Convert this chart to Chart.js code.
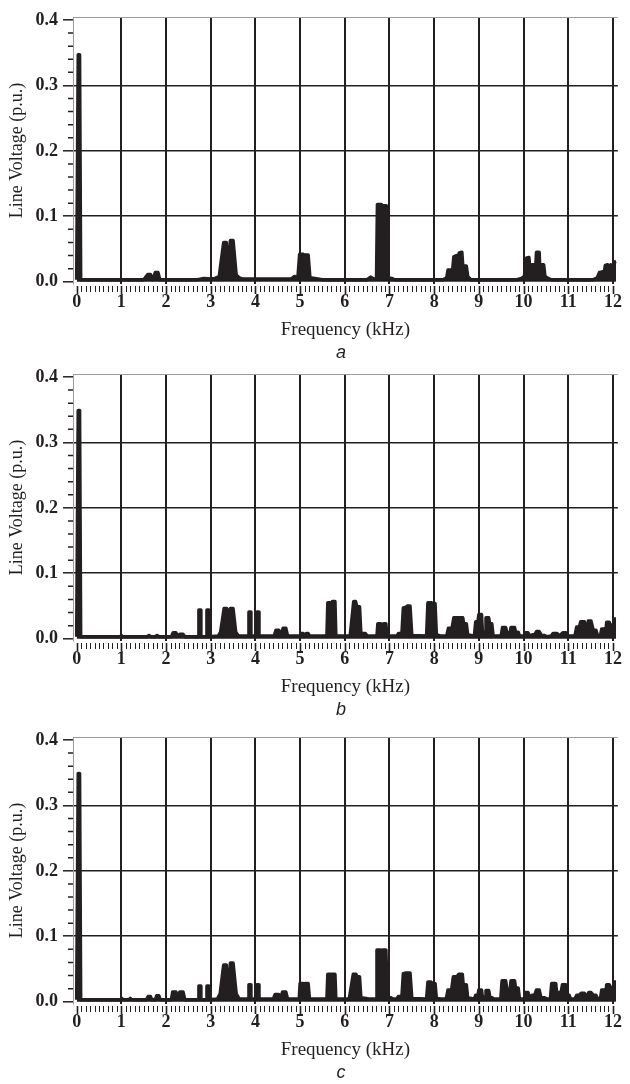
<!DOCTYPE html>
<html lang="en">
<head>
<meta charset="UTF-8">
<title>Line voltage spectra</title>
<style>
  body { margin: 0; background: #fff; }
  .page { position: relative; width: 630px; height: 1084px; }
  .panel { position: absolute; left: 0; width: 630px; height: 360px; }
  .panel canvas { position: absolute; left: 0; top: 0; }
  .tag {
    position: absolute; left: 321px; width: 40px; top: 342px;
    text-align: center; line-height: 18px; color: #231f20;
    font: italic 18px "Liberation Sans", Arial, sans-serif;
  }
</style>
</head>
<body>
<div class="page">
  <div class="panel" style="top:0px"><canvas id="chartA" width="630" height="360"></canvas><div class="tag">a</div></div>
  <div class="panel" style="top:357px"><canvas id="chartB" width="630" height="360"></canvas><div class="tag">b</div></div>
  <div class="panel" style="top:720px"><canvas id="chartC" width="630" height="360"></canvas><div class="tag">c</div></div>
</div>

<script src="https://cdn.jsdelivr.net/npm/chart.js"></script>
<script>
// axis ticks (kHz and p.u.)
const xTicks = [0, 1, 2, 3, 4, 5, 6, 7, 8, 9, 10, 11, 12];
const yTicks = [0, 0.1, 0.2, 0.3, 0.4];
const xMinorStep = 0.1;
const yMinorStep = 0.02;

// spectra: [frequency kHz, line voltage p.u.]
const spectrumA = [
  [0.00,0.003],[0.035,0.347],[0.065,0.347],[0.09,0.003],
  [1.50,0.003],[1.59,0.011],[1.65,0.011],[1.70,0.003],[1.76,0.014],[1.82,0.014],[1.86,0.003],
  [2.70,0.003],[2.85,0.005],[3.00,0.004],[3.10,0.005],[3.19,0.008],[3.29,0.060],[3.35,0.060],[3.40,0.004],
  [3.44,0.063],[3.50,0.063],[3.57,0.010],[3.64,0.006],[3.72,0.004],
  [4.00,0.004],[4.40,0.004],[4.80,0.004],[4.87,0.008],[4.95,0.006],[4.99,0.042],[5.07,0.042],[5.09,0.020],
  [5.11,0.041],[5.18,0.041],[5.22,0.006],[5.40,0.004],[5.50,0.003],
  [6.50,0.003],[6.58,0.007],[6.65,0.004],[6.71,0.005],[6.73,0.118],[6.82,0.118],[6.835,0.050],[6.85,0.116],
  [6.93,0.116],[6.96,0.006],[7.05,0.005],[7.12,0.003],
  [8.20,0.003],[8.28,0.006],[8.31,0.018],[8.38,0.018],[8.40,0.008],[8.44,0.038],[8.50,0.040],[8.52,0.020],
  [8.56,0.044],[8.62,0.045],[8.64,0.025],[8.67,0.024],[8.72,0.024],[8.75,0.008],[8.82,0.003],
  [9.85,0.003],[9.95,0.005],[10.02,0.008],[10.06,0.036],[10.12,0.037],[10.16,0.006],[10.19,0.026],[10.24,0.026],
  [10.26,0.008],[10.29,0.045],[10.35,0.045],[10.37,0.010],[10.40,0.026],[10.45,0.026],[10.48,0.008],[10.55,0.005],[10.62,0.003],
  [11.55,0.003],[11.65,0.006],[11.70,0.014],[11.76,0.015],[11.79,0.006],[11.83,0.025],[11.88,0.026],[11.91,0.008],
  [11.95,0.026],[11.98,0.024],[12.00,0.010],[12.03,0.030],[12.07,0.031]
];

const spectrumB = [
  [0.00,0.003],[0.035,0.349],[0.065,0.349],[0.09,0.003],
  [0.98,0.003],[1.00,0.005],[1.03,0.003],
  [1.58,0.003],[1.62,0.005],[1.66,0.003],[1.76,0.003],[1.80,0.005],[1.84,0.003],
  [2.12,0.003],[2.16,0.009],[2.22,0.009],[2.26,0.004],[2.31,0.007],[2.38,0.007],[2.42,0.003],
  [2.72,0.003],[2.735,0.044],[2.765,0.044],[2.78,0.003],[2.90,0.003],[2.915,0.044],[2.945,0.044],[2.96,0.003],
  [3.17,0.004],[3.22,0.010],[3.30,0.046],[3.36,0.046],[3.40,0.005],[3.44,0.046],[3.50,0.046],[3.56,0.010],[3.62,0.004],
  [3.84,0.004],[3.855,0.041],[3.885,0.041],[3.90,0.004],[4.02,0.004],[4.035,0.041],[4.065,0.041],[4.08,0.004],
  [4.42,0.004],[4.46,0.013],[4.52,0.013],[4.56,0.005],[4.62,0.016],[4.68,0.016],[4.72,0.004],
  [5.00,0.004],[5.02,0.008],[5.07,0.008],[5.10,0.004],[5.14,0.008],[5.18,0.008],[5.21,0.004],
  [5.60,0.004],[5.62,0.055],[5.67,0.055],[5.69,0.004],[5.72,0.057],[5.78,0.057],[5.80,0.004],
  [6.12,0.004],[6.20,0.057],[6.24,0.057],[6.27,0.049],[6.33,0.049],[6.36,0.008],[6.46,0.008],[6.50,0.004],
  [6.72,0.004],[6.74,0.023],[6.79,0.023],[6.81,0.004],[6.86,0.004],[6.87,0.023],[6.92,0.023],[6.94,0.004],
  [7.17,0.004],[7.20,0.008],[7.25,0.008],[7.28,0.010],[7.31,0.047],[7.37,0.048],[7.40,0.050],[7.46,0.050],[7.50,0.005],
  [7.83,0.004],[7.86,0.055],[7.93,0.055],[7.97,0.054],[8.02,0.054],[8.05,0.006],[8.15,0.004],[8.28,0.004],
  [8.32,0.016],[8.40,0.016],[8.44,0.032],[8.52,0.032],[8.56,0.032],[8.64,0.032],[8.66,0.023],[8.72,0.023],[8.75,0.006],
  [8.90,0.004],[8.93,0.026],[8.98,0.026],[9.00,0.037],[9.06,0.037],[9.08,0.010],[9.14,0.010],[9.16,0.032],[9.22,0.032],
  [9.24,0.023],[9.29,0.023],[9.32,0.004],
  [9.50,0.004],[9.53,0.017],[9.60,0.017],[9.63,0.009],[9.70,0.009],[9.72,0.017],[9.80,0.017],[9.82,0.010],[9.88,0.010],[9.91,0.004],
  [10.03,0.004],[10.05,0.009],[10.10,0.009],[10.14,0.004],[10.20,0.006],[10.25,0.006],[10.29,0.011],[10.35,0.011],
  [10.40,0.005],[10.47,0.005],[10.52,0.003],
  [10.62,0.004],[10.66,0.008],[10.75,0.008],[10.80,0.004],[10.88,0.009],[10.95,0.009],[11.00,0.004],
  [11.15,0.004],[11.19,0.018],[11.25,0.018],[11.28,0.026],[11.36,0.026],[11.40,0.008],[11.45,0.027],[11.51,0.027],
  [11.56,0.013],[11.62,0.013],[11.66,0.004],
  [11.72,0.004],[11.75,0.015],[11.81,0.015],[11.84,0.008],[11.86,0.025],[11.92,0.025],[11.95,0.010],[11.98,0.021],
  [12.00,0.010],[12.03,0.030],[12.07,0.030]
];

const spectrumC = [
  [0.00,0.003],[0.035,0.349],[0.065,0.349],[0.09,0.003],
  [0.98,0.003],[1.01,0.005],[1.04,0.003],[1.17,0.003],[1.20,0.005],[1.23,0.003],
  [1.56,0.003],[1.60,0.008],[1.65,0.008],[1.68,0.003],[1.76,0.003],[1.79,0.009],[1.84,0.009],[1.87,0.003],
  [2.12,0.003],[2.15,0.015],[2.22,0.015],[2.25,0.004],[2.31,0.015],[2.38,0.015],[2.42,0.003],
  [2.72,0.003],[2.735,0.024],[2.765,0.024],[2.78,0.003],[2.90,0.003],[2.915,0.024],[2.945,0.024],[2.96,0.003],
  [3.15,0.004],[3.21,0.012],[3.29,0.056],[3.35,0.056],[3.40,0.005],[3.44,0.059],[3.50,0.059],[3.57,0.012],[3.64,0.004],
  [3.84,0.004],[3.855,0.026],[3.885,0.026],[3.90,0.004],[4.02,0.004],[4.035,0.026],[4.065,0.026],[4.08,0.004],
  [4.40,0.004],[4.44,0.011],[4.52,0.011],[4.56,0.005],[4.61,0.015],[4.68,0.015],[4.72,0.004],
  [4.98,0.004],[5.00,0.028],[5.07,0.028],[5.09,0.010],[5.11,0.028],[5.18,0.028],[5.21,0.004],
  [5.60,0.004],[5.62,0.042],[5.67,0.042],[5.69,0.004],[5.72,0.042],[5.78,0.042],[5.80,0.004],
  [6.10,0.004],[6.19,0.042],[6.25,0.042],[6.27,0.038],[6.33,0.038],[6.36,0.006],[6.48,0.005],[6.52,0.004],
  [6.70,0.004],[6.72,0.079],[6.80,0.079],[6.82,0.030],[6.84,0.079],[6.92,0.079],[6.95,0.006],[7.03,0.006],[7.08,0.004],
  [7.16,0.004],[7.20,0.008],[7.25,0.008],[7.28,0.010],[7.31,0.043],[7.37,0.044],[7.40,0.044],[7.46,0.044],[7.50,0.005],
  [7.83,0.004],[7.86,0.030],[7.93,0.030],[7.96,0.028],[8.02,0.028],[8.05,0.005],[8.15,0.004],[8.27,0.004],
  [8.31,0.018],[8.39,0.018],[8.43,0.038],[8.51,0.038],[8.55,0.042],[8.63,0.042],[8.65,0.026],[8.72,0.026],[8.75,0.006],
  [8.90,0.004],[8.93,0.010],[8.98,0.010],[9.00,0.018],[9.06,0.018],[9.08,0.006],[9.14,0.008],[9.16,0.017],[9.22,0.017],
  [9.25,0.006],[9.30,0.006],[9.33,0.004],
  [9.49,0.004],[9.52,0.032],[9.60,0.032],[9.63,0.018],[9.70,0.018],[9.72,0.032],[9.80,0.032],[9.82,0.021],[9.88,0.021],[9.91,0.004],
  [10.02,0.004],[10.04,0.014],[10.10,0.014],[10.14,0.005],[10.19,0.010],[10.25,0.010],[10.29,0.018],[10.35,0.018],
  [10.39,0.006],[10.47,0.006],[10.52,0.004],
  [10.60,0.004],[10.63,0.028],[10.72,0.028],[10.75,0.008],[10.79,0.014],[10.84,0.014],[10.87,0.026],[10.95,0.026],
  [10.98,0.010],[11.02,0.010],[11.05,0.004],
  [11.15,0.004],[11.19,0.010],[11.25,0.010],[11.29,0.013],[11.36,0.013],[11.40,0.006],[11.46,0.014],[11.51,0.014],
  [11.56,0.010],[11.62,0.010],[11.66,0.004],
  [11.72,0.004],[11.75,0.018],[11.81,0.018],[11.84,0.008],[11.86,0.026],[11.92,0.026],[11.95,0.010],[11.98,0.022],
  [12.00,0.010],[12.03,0.030],[12.07,0.030]
];

const ink = '#231f20';
const frameGrey = '#9d9d9d';
const clear = 'rgba(0,0,0,0)';

Chart.defaults.font.family = '"Liberation Serif", "Times New Roman", serif';
Chart.defaults.color = ink;

// top frame line, minor y ticks and the x tick row that sits a bit below the plot
const axisMarks = {
  id: 'axisMarks',
  afterDraw(chart) {
    const { ctx, chartArea: area, scales: { x, y } } = chart;
    ctx.save();
    ctx.strokeStyle = frameGrey;
    ctx.lineWidth = 1;
    ctx.beginPath();
    ctx.moveTo(area.left, area.top + 0.5);
    ctx.lineTo(area.right, area.top + 0.5);
    ctx.stroke();

    ctx.strokeStyle = ink;
    ctx.lineWidth = 1.5;
    ctx.beginPath();
    const yMax = yTicks[yTicks.length - 1];
    for (let i = 1; i * yMinorStep < yMax - 1e-9; i++) {
      if (i % 5 === 0) continue;
      const py = y.getPixelForValue(i * yMinorStep);
      ctx.moveTo(area.left - 5, py);
      ctx.lineTo(area.left, py);
    }
    ctx.stroke();

    // x ticks: minor ones thin, whole kHz slightly heavier and longer
    const xMax = xTicks[xTicks.length - 1];
    const minor = new Path2D();
    const major = new Path2D();
    for (let i = 0; i * xMinorStep <= xMax + 1e-9; i++) {
      const px = Math.round(x.getPixelForValue(i * xMinorStep)) + 0.5;
      const isMajor = i % 10 === 0;
      const path = isMajor ? major : minor;
      path.moveTo(px, area.bottom + 2);
      path.lineTo(px, area.bottom + 2 + (isMajor ? 8 : 6));
    }
    ctx.lineWidth = 1;
    ctx.stroke(minor);
    ctx.lineWidth = 1.6;
    ctx.stroke(major);
    ctx.restore();
  }
};

function makeChart(id, points) {
  return new Chart(document.getElementById(id), {
    type: 'line',
    data: {
      datasets: [{
        data: points.map(p => ({ x: p[0], y: p[1] })),
        borderColor: ink,
        backgroundColor: ink,
        borderWidth: 3.5,
        borderJoinStyle: 'round',
        pointRadius: 0,
        tension: 0,
        fill: 'origin'
      }]
    },
    options: {
      responsive: false,
      animation: false,
      events: [],
      layout: { padding: { left: 0, right: 10, top: 17, bottom: 0 } },
      plugins: { legend: { display: false }, tooltip: { enabled: false } },
      scales: {
        x: {
          type: 'linear',
          min: -0.082,
          max: 12.11,
          afterBuildTicks: s => { s.ticks = xTicks.map(v => ({ value: v })); },
          afterFit: s => { s.height = 76; },
          ticks: {
            autoSkip: false, maxRotation: 0, padding: 8, color: ink,
            font: { size: 18, weight: 'bold' },
            callback: v => String(v)
          },
          grid: {
            drawTicks: false,
            lineWidth: 2,
            color: c => (c.tick && c.tick.value === 0) ? clear : ink
          },
          border: { display: false },
          title: {
            display: true, text: 'Frequency (kHz)', color: ink,
            font: { size: 19 }, padding: { top: 0, bottom: 19 }
          }
        },
        y: {
          type: 'linear',
          min: -0.0035,
          max: 0.4046,
          afterBuildTicks: s => { s.ticks = yTicks.map(v => ({ value: v })); },
          afterFit: s => { s.width = 73; },
          ticks: {
            padding: 5, color: ink,
            font: { size: 18, weight: 'bold' },
            callback: v => v.toFixed(1)
          },
          grid: {
            drawTicks: true,
            tickLength: 10,
            tickWidth: 1.5,
            tickColor: ink,
            lineWidth: 1.6,
            color: c => (c.tick && (c.tick.value === 0 || c.tick.value === 0.4)) ? clear : ink
          },
          border: { display: true, color: frameGrey, width: 1 },
          title: {
            display: true, text: 'Line Voltage (p.u.)', color: ink,
            font: { size: 18 }, padding: { top: 6, bottom: 0 }
          }
        }
      }
    },
    plugins: [axisMarks]
  });
}

makeChart('chartA', spectrumA);
makeChart('chartB', spectrumB);
makeChart('chartC', spectrumC);
</script>
</body>
</html>
